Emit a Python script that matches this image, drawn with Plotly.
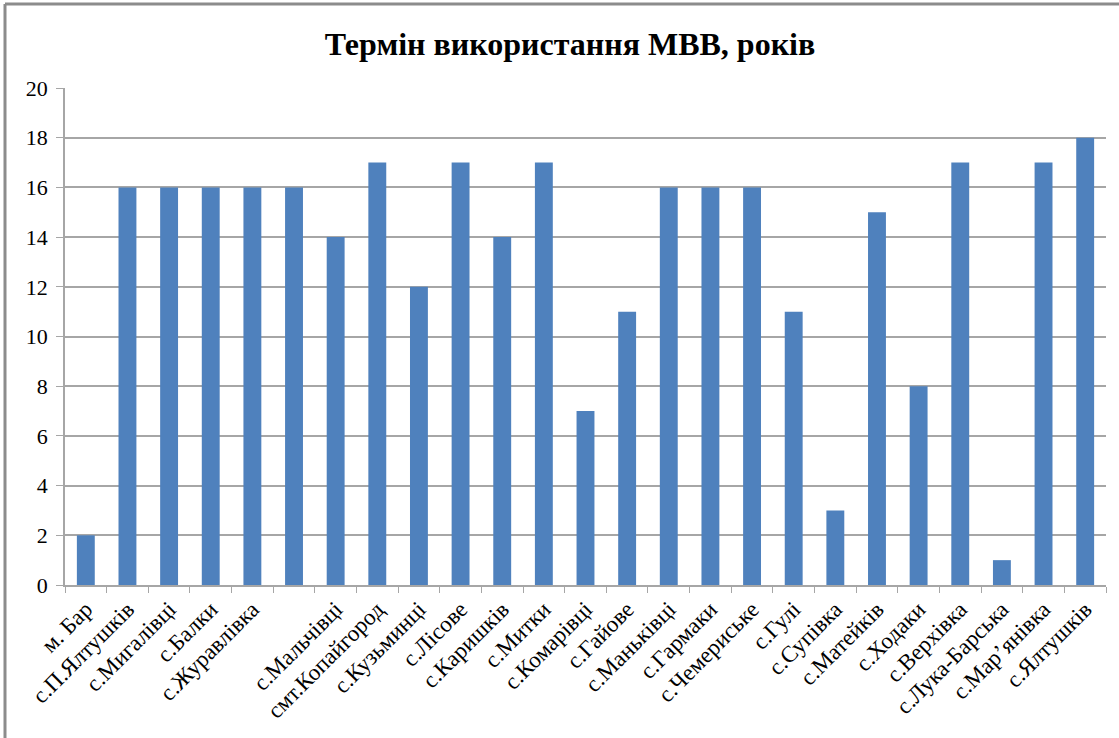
import plotly.graph_objects as go

categories = ["м. Бар", "с.П.Ялтушків", "с.Мигалівці", "с.Балки", "с.Журавлівка", " ",
              "с.Мальчівці", "смт.Копайгород", "с.Кузьминці", "с.Лісове", "с.Каришків",
              "с.Митки", "с.Комарівці", "с.Гайове", "с.Маньківці", "с.Гармаки",
              "с.Чемериське", "с.Гулі", "с.Супівка", "с.Матейків", "с.Ходаки",
              "с.Верхівка", "с.Лука-Барська", "с.Мар’янівка", "с.Ялтушків"]
values = [2, 16, 16, 16, 16, 16, 14, 17, 12, 17, 14, 17, 7, 11, 16, 16, 16, 11, 3, 15, 8, 17, 1, 17, 18]
y_ticks = [0, 2, 4, 6, 8, 10, 12, 14, 16, 18, 20]
title = "Термін використання МВВ, років"

W, H = 1119, 738
L, R, T, B = 65, 13, 88, 153
pw, ph = W - L - R, H - T - B

fig = go.Figure(go.Bar(x=categories, y=values, marker_color="#4F81BD",
                       marker_line_width=0, width=0.43))

fig.update_layout(
    width=W, height=H,
    margin=dict(l=L, r=R, t=T, b=B),
    paper_bgcolor="white", plot_bgcolor="white",
    title=dict(text="<b>" + title + "</b>", x=(570 - L) / pw, xref="paper", xanchor="center",
               y=1 - 44 / H, yanchor="middle",
               font=dict(family="Liberation Serif", size=32, color="black")),
    font=dict(family="Liberation Serif", color="black"),
    showlegend=False,
    shapes=[
        dict(type="line", xref="paper", yref="paper", x0=(5 - L) / pw, x1=(W - L) / pw + 0.01,
             y0=1 + (T - 4) / ph, y1=1 + (T - 4) / ph, line=dict(color="#8C8C8C", width=3)),
        dict(type="line", xref="paper", yref="paper", x0=(5 - L) / pw, x1=(5 - L) / pw,
             y0=1 + (T - 4) / ph, y1=-B / ph - 0.01, line=dict(color="#8C8C8C", width=3)),
    ],
)
fig.update_xaxes(type="category", tickangle=-45, tickfont=dict(size=23, family="Liberation Serif"),
                 showline=True, linecolor="#A6A6A6", linewidth=1.5,
                 ticks="outside", tickson="boundaries", ticklen=6, tickcolor="#A6A6A6",
                 showgrid=False)
fig.update_yaxes(range=[0, 20], tickvals=y_ticks, tickfont=dict(size=22, family="Liberation Serif"),
                 showgrid=True, gridcolor="#A6A6A6", gridwidth=1.5,
                 showline=True, linecolor="#A6A6A6", linewidth=1.5,
                 ticks="outside", ticklen=7, tickcolor="#A6A6A6", zeroline=False,
                 ticklabelstandoff=4)

fig.write_html("out.html", config={"displayModeBar": False},
               post_script="document.body.style.margin='0';document.body.style.overflow='hidden';")
